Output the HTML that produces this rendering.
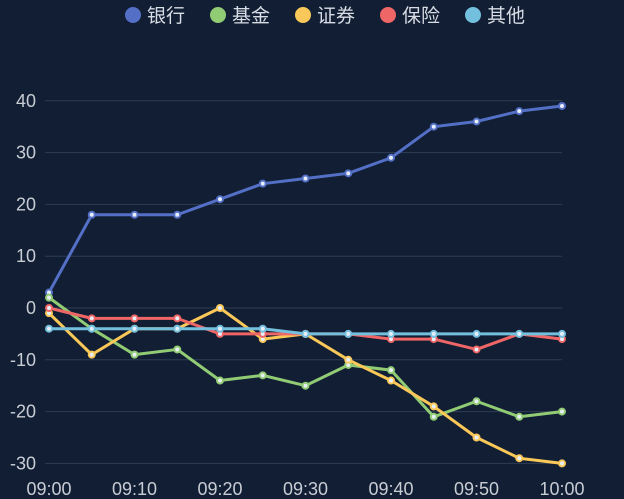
<!DOCTYPE html>
<html><head><meta charset="utf-8"><style>
html,body{margin:0;padding:0;background:#111e33;}
svg{display:block;font-family:"Liberation Sans","Noto Sans CJK SC",sans-serif;}
</style></head><body>
<svg id="chart" width="624" height="499">
<rect width="624" height="499" fill="#111e33"/>
<g id="grid"></g>
<g id="series"></g>
<g id="legend"></g>
</svg>
<script>
const categories = ["09:00","09:05","09:10","09:15","09:20","09:25","09:30","09:35","09:40","09:45","09:50","09:55","10:00"];
const xTickLabels = ["09:00","09:10","09:20","09:30","09:40","09:50","10:00"];
const yTicks = [40,30,20,10,0,-10,-20,-30];
const seriesNames = ["银行","基金","证券","保险","其他"];
const bank = [3,18,18,18,21,24,25,26,29,35,36,38,39];
const fund = [2,-4,-9,-8,-14,-13,-15,-11,-12,-21,-18,-21,-20];
const securities = [-1,-9,-4,-4,0,-6,-5,-10,-14,-19,-25,-29,-30];
const insurance = [0,-2,-2,-2,-5,-5,-5,-5,-6,-6,-8,-5,-6];
const other = [-4,-4,-4,-4,-4,-4,-5,-5,-5,-5,-5,-5,-5];
const allSeries = [bank,fund,securities,insurance,other];
const colors = ["#5470c6","#91cc75","#fac858","#ee6666","#73c0de"];
const NS="http://www.w3.org/2000/svg";
const x0=49,x1=562,y0=308,perUnit=5.18;
const xs=i=>x0+i*(x1-x0)/(categories.length-1);
const ys=v=>y0-v*perUnit;
function mk(tag,attrs,parent){const e=document.createElementNS(NS,tag);for(const k in attrs)e.setAttribute(k,attrs[k]);parent.appendChild(e);return e;}
const grid=document.getElementById('grid');
yTicks.forEach(t=>{
  const l=mk('line',{x1:45,x2:x1,y1:ys(t),y2:ys(t),stroke:'#2e3d55','stroke-width':1},grid);
  
  
  const tx=mk('text',{x:36,y:ys(t)+6,'text-anchor':'end','font-size':18,fill:'#c8ccd4'},grid);
  tx.textContent=t;
  
  
});
xTickLabels.forEach(lab=>{
  const i=categories.indexOf(lab);
  const tx=mk('text',{x:xs(i),y:495,'text-anchor':'middle','font-size':18,fill:'#c8ccd4'},grid);
  tx.textContent=lab;
  
  
});
const sg=document.getElementById('series');
allSeries.forEach((d,si)=>{
  const g=mk('g',{},sg);
  
  
  const p=mk('polyline',{points:d.map((v,i)=>xs(i)+','+ys(v)).join(' '),fill:'none',stroke:colors[si],'stroke-width':3,'stroke-linejoin':'round'},g);
  
  
  d.forEach((v,i)=>{
    const c=mk('circle',{cx:xs(i),cy:ys(v),r:3,fill:'#e8eef8',stroke:colors[si],'stroke-width':2},g);
    
    
  });
});
const lg=document.getElementById('legend');
const lx=[133,218,303,388,473];
seriesNames.forEach((n,i)=>{
  const g=mk('g',{},lg);
  
  
  mk('circle',{cx:lx[i],cy:15,r:8,fill:colors[i]},g);
  const t=mk('text',{x:lx[i]+14,y:22,'font-size':19,fill:'#d8dce4'},g);
  t.textContent=n;
});
</script>
</body></html>
